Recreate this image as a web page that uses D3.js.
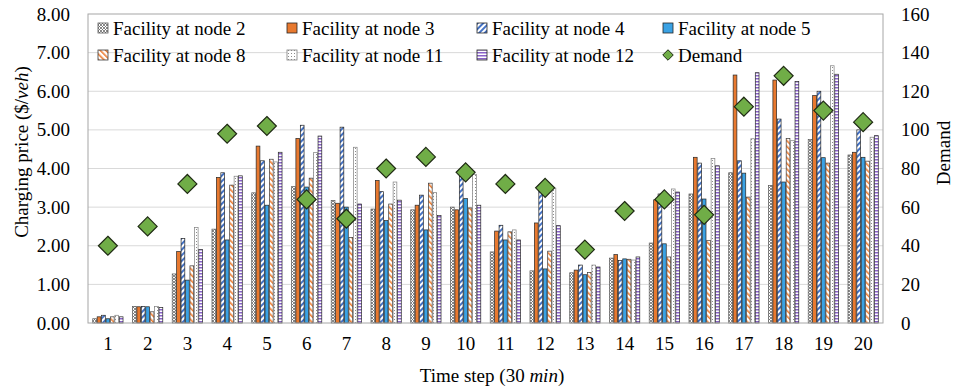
<!DOCTYPE html>
<html>
<head>
<meta charset="utf-8">
<script src="https://cdn.jsdelivr.net/npm/d3@7/dist/d3.min.js"></script>
<style>
  html, body { margin: 0; padding: 0; background: #fff; }
  svg, svg text { font-family: "Liberation Serif", "Times New Roman", serif; }
  svg { display: block; }
</style>
</head>
<body>
<svg id="chart" width="955" height="390"></svg>
<script>
// Time steps (30 min each)
const timeSteps = d3.range(1, 21);

// Charging price ($/veh) per facility
const node2  = [0.11, 0.43, 1.27, 2.43, 3.37, 3.53, 3.17, 2.95, 2.93, 3.00, 1.84, 1.35, 1.30, 1.68, 2.07, 3.34, 3.89, 3.56, 4.75, 4.35];
const node3  = [0.16, 0.42, 1.85, 3.77, 4.58, 4.78, 3.10, 3.69, 3.05, 2.93, 2.38, 2.59, 1.37, 1.77, 3.19, 4.29, 6.42, 6.29, 5.89, 4.42];
const node4  = [0.20, 0.43, 2.19, 3.89, 4.20, 5.12, 5.07, 3.40, 3.31, 3.79, 2.53, 3.45, 1.50, 1.62, 3.34, 4.14, 4.20, 5.28, 6.00, 5.00];
const node5  = [0.11, 0.42, 1.11, 2.15, 3.05, 3.52, 3.00, 2.65, 2.41, 3.22, 2.15, 1.40, 1.25, 1.66, 2.05, 3.21, 3.88, 3.65, 4.28, 4.29];
const node8  = [0.16, 0.29, 1.48, 3.57, 4.24, 3.75, 2.21, 3.08, 3.62, 2.98, 2.36, 1.86, 1.31, 1.65, 1.71, 2.14, 3.26, 4.78, 4.14, 4.19];
const node11 = [0.20, 0.43, 2.47, 3.80, 4.17, 4.41, 4.55, 3.65, 3.38, 3.85, 2.41, 3.49, 1.50, 1.63, 3.47, 4.26, 4.77, 4.72, 6.66, 4.81];
const node12 = [0.16, 0.40, 1.90, 3.81, 4.42, 4.84, 3.08, 3.18, 2.78, 3.05, 2.15, 2.52, 1.45, 1.71, 3.39, 4.07, 6.48, 6.25, 6.44, 4.85];

// Demand per time step
const demand = [40, 50, 72, 98, 102, 64, 54, 80, 86, 78, 72, 70, 38, 58, 64, 56, 112, 128, 110, 104];

const priceTicks  = [0, 1, 2, 3, 4, 5, 6, 7, 8];
const demandTicks = [0, 20, 40, 60, 80, 100, 120, 140, 160];

const series = [
  { name: "Facility at node 2",  values: node2,  fill: "url(#pat-cross)",  stroke: "#595959" },
  { name: "Facility at node 3",  values: node3,  fill: "#E8792F",          stroke: "#262626" },
  { name: "Facility at node 4",  values: node4,  fill: "url(#pat-blue)",   stroke: "#262626" },
  { name: "Facility at node 5",  values: node5,  fill: "#3AA2E4",          stroke: "#262626" },
  { name: "Facility at node 8",  values: node8,  fill: "url(#pat-orange)", stroke: "#3a3a3a" },
  { name: "Facility at node 11", values: node11, fill: "url(#pat-dots)",   stroke: "#7f7f7f" },
  { name: "Facility at node 12", values: node12, fill: "url(#pat-purple)", stroke: "#262626" }
];

const FONT = "'Liberation Serif', 'Times New Roman', serif";
const fontSize = 19;

const svg = d3.select("#chart");
const plot = { left: 88, right: 883, top: 14, bottom: 323 };

// Fill patterns
const defs = svg.append("defs");
const p1 = defs.append("pattern").attr("id", "pat-cross").attr("patternUnits", "userSpaceOnUse")
  .attr("width", 3).attr("height", 3);
p1.append("rect").attr("width", 3).attr("height", 3).attr("fill", "#fff");
p1.append("path").attr("d", "M0,0L3,3M3,0L0,3").attr("stroke", "#6b6b6b").attr("stroke-width", 0.8);

const p2 = defs.append("pattern").attr("id", "pat-blue").attr("patternUnits", "userSpaceOnUse")
  .attr("width", 4).attr("height", 4).attr("patternTransform", "rotate(45)");
p2.append("rect").attr("width", 4).attr("height", 4).attr("fill", "#fff");
p2.append("rect").attr("width", 2).attr("height", 4).attr("fill", "#4472C4");

const p3 = defs.append("pattern").attr("id", "pat-orange").attr("patternUnits", "userSpaceOnUse")
  .attr("width", 4).attr("height", 4).attr("patternTransform", "rotate(-45)");
p3.append("rect").attr("width", 4).attr("height", 4).attr("fill", "#fff");
p3.append("rect").attr("width", 1.6).attr("height", 4).attr("fill", "#ED7D31");

const p4 = defs.append("pattern").attr("id", "pat-dots").attr("patternUnits", "userSpaceOnUse")
  .attr("width", 3).attr("height", 3);
p4.append("rect").attr("width", 3).attr("height", 3).attr("fill", "#fff");
p4.append("rect").attr("x", 1).attr("y", 1).attr("width", 1).attr("height", 1).attr("fill", "#8c8c8c");

const p5 = defs.append("pattern").attr("id", "pat-purple").attr("patternUnits", "userSpaceOnUse")
  .attr("width", 3).attr("height", 3);
p5.append("rect").attr("width", 3).attr("height", 3).attr("fill", "#fff");
p5.append("rect").attr("width", 3).attr("height", 1.5).attr("fill", "#8A63C9");

// Scales
const x0 = d3.scaleBand().domain(timeSteps).range([plot.left, plot.right])
  .paddingInner(0.22).paddingOuter(0.11);
const x1 = d3.scaleBand().domain(d3.range(series.length)).range([0, x0.bandwidth()]);
const yPrice = d3.scaleLinear().domain([0, 8]).range([plot.bottom, plot.top]);
const yDemand = d3.scaleLinear().domain([0, 160]).range([plot.bottom, plot.top]);

// Gridlines
svg.append("g").selectAll("line").data(priceTicks.slice(1, -1)).join("line")
  .attr("x1", plot.left).attr("x2", plot.right)
  .attr("y1", d => yPrice(d)).attr("y2", d => yPrice(d))
  .attr("stroke", "#d9d9d9").attr("stroke-width", 1);

// Bars
const groups = svg.append("g").selectAll("g").data(series).join("g");
groups.each(function (s, si) {
  d3.select(this).selectAll("rect").data(s.values).join("rect")
    .attr("x", (d, i) => x0(timeSteps[i]) + x1(si) + 0.35)
    .attr("width", x1.bandwidth() - 0.7)
    .attr("y", d => yPrice(d))
    .attr("height", d => yPrice(0) - yPrice(d))
    .attr("fill", s.fill)
    .attr("stroke", s.stroke)
    .attr("stroke-width", 0.7);
});

// Demand markers
const diamond = d3.symbol().type(d3.symbolDiamond2).size(230);
svg.append("g").selectAll("path").data(demand).join("path")
  .attr("d", diamond)
  .attr("transform", (d, i) => `translate(${x0(timeSteps[i]) + x0.bandwidth() / 2},${yDemand(d)})`)
  .attr("fill", "#70AD47").attr("stroke", "#1f2a14").attr("stroke-width", 1.2);

// Plot frame
svg.append("rect")
  .attr("x", plot.left).attr("y", plot.top)
  .attr("width", plot.right - plot.left).attr("height", plot.bottom - plot.top)
  .attr("fill", "none").attr("stroke", "#a6a6a6").attr("stroke-width", 1);

// Axes
const leftAxis = d3.axisLeft(yPrice).tickValues(priceTicks).tickFormat(d3.format(".2f")).tickSize(0).tickPadding(18);
const gL = svg.append("g").attr("transform", `translate(${plot.left},0)`).call(leftAxis);
const rightAxis = d3.axisRight(yDemand).tickValues(demandTicks).tickSize(0).tickPadding(18);
const gR = svg.append("g").attr("transform", `translate(${plot.right},0)`).call(rightAxis);
const bottomAxis = d3.axisBottom(x0).tickSize(0).tickPadding(14);
const gB = svg.append("g").attr("transform", `translate(0,${plot.bottom})`).call(bottomAxis);
[gL, gR, gB].forEach(g => {
  g.attr("font-family", FONT).attr("font-size", fontSize);
  g.select(".domain").remove();
  g.selectAll("text").style("font-family", FONT).attr("font-size", fontSize).attr("fill", "#000");
});

// Axis titles
const tL = svg.append("text").attr("transform", "translate(28,152) rotate(-90)")
  .attr("text-anchor", "middle").attr("font-size", fontSize).style("font-family", FONT);
tL.append("tspan").text("Charging price ($/");
tL.append("tspan").attr("font-style", "italic").text("veh");
tL.append("tspan").text(")");

svg.append("text").attr("transform", "translate(950,153) rotate(-90)")
  .attr("text-anchor", "middle").attr("font-size", fontSize).style("font-family", FONT).text("Demand");

const tB = svg.append("text").attr("x", 492).attr("y", 382)
  .attr("text-anchor", "middle").attr("font-size", fontSize).style("font-family", FONT);
tB.append("tspan").text("Time step (30 ");
tB.append("tspan").attr("font-style", "italic").text("min");
tB.append("tspan").text(")");

// Legend
const legendItems = series.map(s => ({ name: s.name, fill: s.fill, stroke: s.stroke, type: "bar" }))
  .concat([{ name: "Demand", type: "marker" }]);
const colX = [98, 287, 477, 663];
const rowY = [28, 55];
const lg = svg.append("g").selectAll("g").data(legendItems).join("g")
  .attr("transform", (d, i) => `translate(${colX[i % 4]},${rowY[Math.floor(i / 4)]})`);
lg.filter(d => d.type === "bar").append("rect")
  .attr("x", 0).attr("y", -5).attr("width", 10).attr("height", 10)
  .attr("fill", d => d.fill).attr("stroke", d => d.stroke).attr("stroke-width", 0.8);
lg.filter(d => d.type === "marker").append("path")
  .attr("d", d3.symbol().type(d3.symbolDiamond2).size(70))
  .attr("transform", "translate(5,0)")
  .attr("fill", "#70AD47").attr("stroke", "#1f2a14").attr("stroke-width", 1);
lg.append("text").attr("x", 15).attr("y", 0).attr("dy", "0.35em")
  .attr("font-size", fontSize).style("font-family", FONT).text(d => d.name);
</script>
</body>
</html>
